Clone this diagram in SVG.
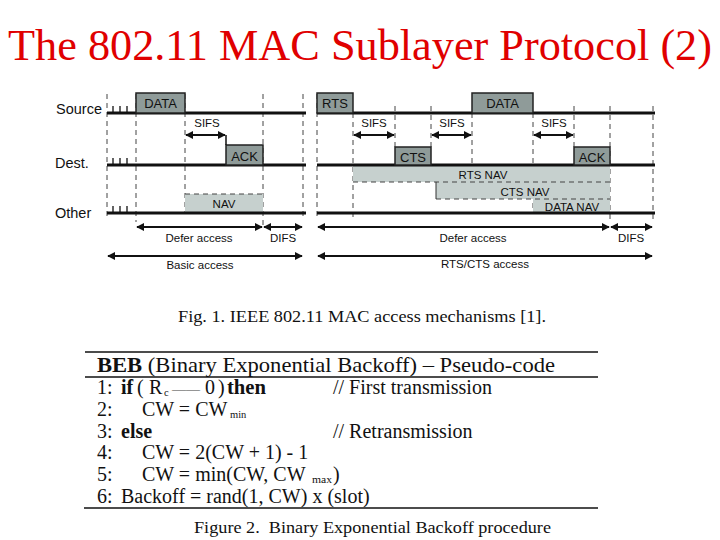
<svg xmlns="http://www.w3.org/2000/svg" width="720" height="540" viewBox="0 0 720 540">
<defs>
<marker id="ah" viewBox="0 0 10 10" refX="9" refY="5" markerWidth="8" markerHeight="8" markerUnits="userSpaceOnUse" orient="auto-start-reverse">
<path d="M0,0 L10,5 L0,10 z" fill="#111"/>
</marker>
<style>
.t{font-family:"Liberation Sans",Arial,sans-serif;fill:#111}
.lbl{font-size:14.5px}
.bx{font-size:13px;text-anchor:middle}
.sm{font-size:11.5px;text-anchor:middle}
.line{stroke:#111;stroke-width:3}
.tick{stroke:#111;stroke-width:1.3}
.dash{stroke:#444;stroke-width:1;stroke-dasharray:5,4;fill:none}
.box{fill:#8f9b99;stroke:#222;stroke-width:1.5}
.nav{fill:#c6d0ce;stroke:none}
.arr{stroke:#111;stroke-width:1.8;fill:none;marker-start:url(#ah);marker-end:url(#ah)}
.serif{font-family:"Liberation Serif","Times New Roman",serif;fill:#111}
.code{font-size:20px}
.sub{font-size:10.5px}
.b{font-weight:bold}
.rule{stroke:#111;stroke-width:1.5}
</style>
</defs>

<text class="serif" x="8" y="60" font-size="44" style="fill:#e00000" textLength="704" lengthAdjust="spacingAndGlyphs">The 802.11 MAC Sublayer Protocol (2)</text>

<!-- Left panel: basic access -->
<g id="basic-access">
<g id="basic-dashes">
<line class="dash" x1="107" y1="94" x2="107" y2="220"/>
<line class="dash" x1="136" y1="94" x2="136" y2="222"/>
<line class="dash" x1="185" y1="94" x2="185" y2="213"/>
<line class="dash" x1="263" y1="94" x2="263" y2="225"/>
<line class="dash" x1="303" y1="94" x2="303" y2="220"/>
</g>
<g id="basic-nav">
<rect class="nav" x="185" y="194" width="78" height="19"/>
<line class="dash" x1="185" y1="194" x2="263" y2="194"/>
<text class="t sm" x="224" y="208" font-size="12">NAV</text>
</g>
<g id="basic-lines">
<line class="line" x1="107" y1="113" x2="306" y2="113"/>
<line class="line" x1="107" y1="165" x2="306" y2="165"/>
<line class="line" x1="107" y1="213" x2="306" y2="213"/>
<path class="tick" d="M113,113 v-7 M120,113 v-7 M127,113 v-7 M113,165 v-7 M120,165 v-7 M127,165 v-7 M113,213 v-7 M120,213 v-7 M127,213 v-7"/>
</g>
<g id="basic-data"><rect class="box" x="136" y="93" width="49" height="20"/><text class="t bx" x="160.5" y="108">DATA</text></g>
<g id="basic-ack"><rect class="box" x="226" y="145" width="37" height="20"/><text class="t bx" x="244.5" y="161">ACK</text></g>
</g>

<text class="t lbl" x="102" y="114" text-anchor="end">Source</text>
<text class="t lbl" x="55" y="168">Dest.</text>
<text class="t lbl" x="55" y="218">Other</text>

<!-- Right panel: RTS/CTS -->
<g id="rtscts-access">
<g id="rts-dashes">
<line class="dash" x1="317" y1="94" x2="317" y2="220"/>
<line class="dash" x1="353" y1="113" x2="353" y2="220"/>
<line class="dash" x1="395" y1="106" x2="395" y2="147"/>
<line class="dash" x1="431" y1="106" x2="431" y2="147"/>
<line class="dash" x1="472" y1="113" x2="472" y2="165"/>
<line class="dash" x1="533" y1="113" x2="533" y2="213"/>
<line class="dash" x1="574" y1="106" x2="574" y2="147"/>
<line class="dash" x1="610" y1="106" x2="610" y2="222"/>
<line class="dash" x1="653" y1="106" x2="653" y2="220"/>
</g>
<g id="rts-navs">
<rect class="nav" x="353" y="165" width="257" height="17"/>
<rect class="nav" x="436" y="182" width="174" height="17"/>
<rect class="nav" x="533" y="199" width="77" height="14"/>
<line class="dash" x1="353" y1="182" x2="610" y2="182"/>
<line class="dash" x1="436" y1="199" x2="610" y2="199"/>
<line stroke="#333" stroke-width="1" x1="436" y1="182" x2="436" y2="199"/>
<text class="t sm" x="483" y="179">RTS NAV</text>
<text class="t sm" x="525" y="196">CTS NAV</text>
<text class="t sm" x="572" y="211">DATA NAV</text>
</g>
<g id="rts-lines">
<line class="line" x1="317" y1="113" x2="655" y2="113"/>
<line class="line" x1="317" y1="165" x2="655" y2="165"/>
<line class="line" x1="317" y1="213" x2="655" y2="213"/>
</g>
<g id="rts-rts"><rect class="box" x="317" y="93" width="36" height="20"/><text class="t bx" x="335" y="108">RTS</text></g>
<g id="rts-data"><rect class="box" x="472" y="93" width="61" height="20"/><text class="t bx" x="502.5" y="108">DATA</text></g>
<g id="rts-cts"><rect class="box" x="395" y="147" width="36" height="18"/><text class="t bx" x="413" y="162" font-size="12">CTS</text></g>
<g id="rts-ack"><rect class="box" x="574" y="147" width="36" height="18"/><text class="t bx" x="592" y="162">ACK</text></g>
</g>

<g id="connectors">
<line class="arr" x1="186" y1="135" x2="225" y2="135"/>
<line stroke="#111" stroke-width="1.5" x1="226" y1="135" x2="226" y2="145"/>
<line class="arr" x1="137" y1="227" x2="262" y2="227"/>
<line class="arr" x1="264" y1="227" x2="302" y2="227"/>
<line class="arr" x1="108" y1="256" x2="302" y2="256"/>
<line class="arr" x1="354" y1="135" x2="394" y2="135"/>
<line class="arr" x1="432" y1="135" x2="471" y2="135"/>
<line class="arr" x1="534" y1="135" x2="573" y2="135"/>
<line class="arr" x1="318" y1="227" x2="609" y2="227"/>
<line class="arr" x1="611" y1="227" x2="652" y2="227"/>
<line class="arr" x1="318" y1="256" x2="652" y2="256"/>
</g>

<g id="timing-labels">
<text class="t sm" x="207" y="127">SIFS</text>
<text class="t sm" x="374" y="127">SIFS</text>
<text class="t sm" x="452" y="127">SIFS</text>
<text class="t sm" x="554" y="127">SIFS</text>
<text class="t sm" x="199" y="242">Defer access</text>
<text class="t sm" x="283" y="242">DIFS</text>
<text class="t sm" x="200" y="269">Basic access</text>
<text class="t sm" x="473" y="242">Defer access</text>
<text class="t sm" x="631" y="242">DIFS</text>
<text class="t sm" x="485" y="268">RTS/CTS access</text>
</g>

<text class="serif" x="178" y="322" font-size="17" textLength="368" lengthAdjust="spacingAndGlyphs">Fig. 1. IEEE 802.11 MAC access mechanisms [1].</text>

<g id="pseudo-code">
<line class="rule" x1="85" y1="352" x2="598" y2="352"/>
<line class="rule" x1="85" y1="377" x2="598" y2="377"/>
<line class="rule" x1="84" y1="508" x2="598" y2="508" stroke-width="2"/>
<text class="serif" x="97" y="372" font-size="22" textLength="458" lengthAdjust="spacingAndGlyphs"><tspan font-weight="bold">BEB</tspan> (Binary Exponential Backoff) – Pseudo-code</text>
<g class="serif code">
<text x="97" y="394">1:</text>
<text class="b" x="121" y="394">if</text>
<text x="137" y="394">(</text>
<text x="149" y="394">R</text>
<text class="sub" x="164" y="396">c</text>
<text x="172" y="394" font-size="14" fill="#444">——</text>
<text x="205" y="394">0</text>
<text x="218" y="394">)</text>
<text class="b" x="227" y="394" textLength="39" lengthAdjust="spacingAndGlyphs">then</text>
<text x="333" y="394">// First transmission</text>
<text x="97" y="416">2:</text>
<text x="142" y="416">CW = CW</text>
<text class="sub" x="230" y="418">min</text>
<text x="97" y="438">3:</text>
<text class="b" x="121" y="438">else</text>
<text x="333" y="438">// Retransmission</text>
<text x="97" y="459">4:</text>
<text x="142" y="459">CW = 2(CW + 1) - 1</text>
<text x="97" y="481">5:</text>
<text x="142" y="481">CW = min(CW, CW</text>
<text class="sub" x="312" y="483" textLength="20" lengthAdjust="spacingAndGlyphs">max</text>
<text x="333" y="481">)</text>
<text x="97" y="503">6:</text>
<text x="121" y="503">Backoff = rand(1, CW) x (slot)</text>
</g>
<text class="serif" x="194" y="533" font-size="17" textLength="357" lengthAdjust="spacingAndGlyphs">Figure 2.&#160; Binary Exponential Backoff procedure</text>
</g>
</svg>
